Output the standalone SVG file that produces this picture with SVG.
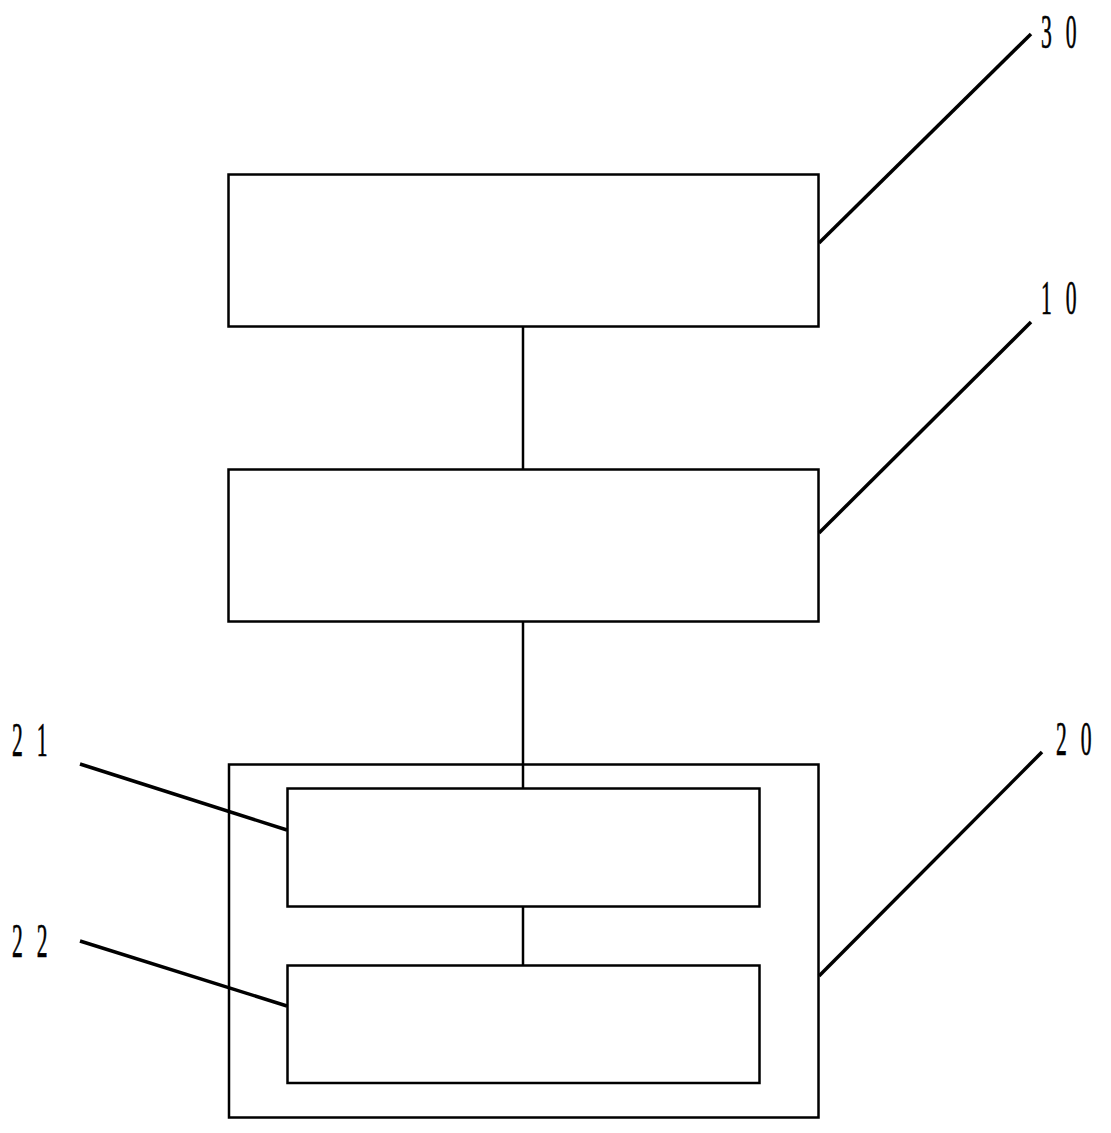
<svg xmlns="http://www.w3.org/2000/svg" width="1111" height="1133" viewBox="0 0 1111 1133">
<style>
.box{fill:none;stroke:#000;stroke-width:2.5}
.conn{stroke:#000;stroke-width:2.5;fill:none}
.lead{stroke:#000;stroke-width:3.5;fill:none}
.lbl{font-family:"Liberation Serif","Times New Roman",serif;font-size:48px;fill:#000;stroke:#000;stroke-width:0.7;letter-spacing:9.5px}
</style>
<rect width="1111" height="1133" fill="#fff"/>
<g id="connectors">
<line class="conn" x1="523" y1="327" x2="523" y2="469"/>
<line class="conn" x1="523" y1="622" x2="523" y2="788"/>
<line class="conn" x1="523" y1="906" x2="523" y2="966"/>
</g>
<g id="node30">
<rect class="box" x="228.5" y="174.5" width="590" height="152"/>
<line class="lead" x1="819" y1="243" x2="1031" y2="34"/>
<text class="lbl" transform="translate(1041,48) scale(0.45,1)">3 0</text>
</g>
<g id="node10">
<rect class="box" x="228.5" y="469.5" width="590" height="152"/>
<line class="lead" x1="819" y1="533" x2="1031" y2="322"/>
<text class="lbl" transform="translate(1041,314) scale(0.45,1)">1 0</text>
</g>
<g id="node20">
<rect class="box" x="229" y="764.5" width="589.5" height="353"/>
<line class="lead" x1="819" y1="976" x2="1042" y2="752"/>
<text class="lbl" transform="translate(1056,755) scale(0.45,1)">2 0</text>
</g>
<g id="node21">
<rect class="box" x="287.5" y="788.5" width="472" height="118"/>
<line class="lead" x1="80" y1="764" x2="287" y2="830"/>
<text class="lbl" transform="translate(12,756) scale(0.45,1)">2 1</text>
</g>
<g id="node22">
<rect class="box" x="287.5" y="965.5" width="472" height="117.5"/>
<line class="lead" x1="80" y1="941" x2="287" y2="1006"/>
<text class="lbl" transform="translate(12,957) scale(0.45,1)">2 2</text>
</g>
</svg>
